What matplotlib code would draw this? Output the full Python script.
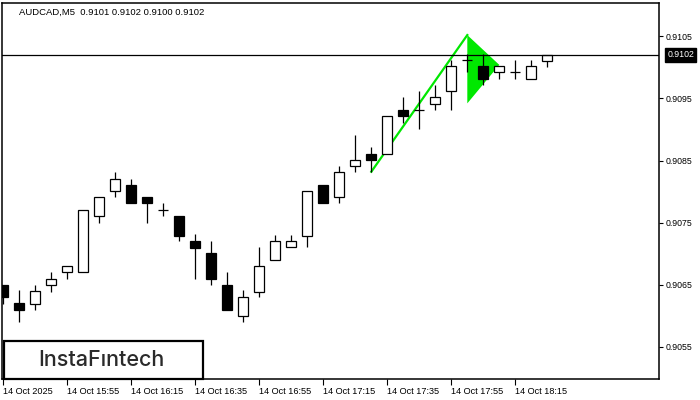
import numpy as np
import matplotlib.pyplot as plt
from matplotlib.patches import Polygon, Rectangle

plt.rcParams['font.family'] = ['Liberation Sans', 'DejaVu Sans']

# AUDCAD M5 candles, 14 Oct 2025 from 15:35
opens = [0.90650, 0.90620, 0.90619, 0.90650, 0.90671, 0.90671, 0.90761, 0.90801, 0.90811, 0.90792,
         0.90770, 0.90761, 0.90721, 0.90702, 0.90650, 0.90599, 0.90639, 0.90690, 0.90711, 0.90729,
         0.90811, 0.90791, 0.90841, 0.90861, 0.90860, 0.90932, 0.90932, 0.90941, 0.90962, 0.91012,
         0.91002, 0.90992, 0.90992, 0.90982, 0.91010]
highs = [0.90650, 0.90641, 0.90650, 0.90671, 0.90680, 0.90771, 0.90791, 0.90832, 0.90821, 0.90792,
         0.90782, 0.90761, 0.90731, 0.90721, 0.90671, 0.90641, 0.90711, 0.90730, 0.90730, 0.90801,
         0.90811, 0.90841, 0.90891, 0.90872, 0.90921, 0.90952, 0.90962, 0.90972, 0.91012, 0.91021,
         0.91021, 0.91002, 0.91012, 0.91012, 0.91020]
lows = [0.90619, 0.90590, 0.90609, 0.90639, 0.90659, 0.90671, 0.90750, 0.90791, 0.90781, 0.90750,
        0.90760, 0.90720, 0.90659, 0.90649, 0.90609, 0.90590, 0.90630, 0.90690, 0.90711, 0.90711,
        0.90781, 0.90781, 0.90831, 0.90832, 0.90860, 0.90911, 0.90901, 0.90931, 0.90931, 0.90992,
        0.90971, 0.90982, 0.90982, 0.90982, 0.91000]
closes = [0.90630, 0.90609, 0.90640, 0.90660, 0.90680, 0.90771, 0.90791, 0.90820, 0.90781, 0.90781,
          0.90770, 0.90729, 0.90710, 0.90659, 0.90609, 0.90630, 0.90680, 0.90720, 0.90720, 0.90801,
          0.90781, 0.90831, 0.90851, 0.90851, 0.90921, 0.90921, 0.90932, 0.90952, 0.91002, 0.91012,
          0.90982, 0.91002, 0.90992, 0.91002, 0.91020]

time_labels = ['14 Oct 2025', '14 Oct 15:55', '14 Oct 16:15', '14 Oct 16:35', '14 Oct 16:55',
               '14 Oct 17:15', '14 Oct 17:35', '14 Oct 17:55', '14 Oct 18:15']
price_ticks = [0.9055, 0.9065, 0.9075, 0.9085, 0.9095, 0.9105]
last_price = 0.9102

# bullish pennant: pole and flag
pole_x = [23, 29]
pole_y = [0.90832, 0.91052]
flag_x = [29, 29, 31]
flag_y = [0.91052, 0.90942, 0.91004]

fig = plt.figure(figsize=(7, 4), dpi=100)
ax = fig.add_axes([2/700, 21/400, 657/700, 376/400])

n = len(opens)
x = np.arange(n)
w = 0.62

# pattern drawn under the candles
ax.add_patch(Polygon(list(zip(flag_x, flag_y)), closed=True, facecolor='#00e800', edgecolor='none', zorder=1))
ax.plot(pole_x, pole_y, color='#00e800', lw=1.6, zorder=1)

for i in range(n):
    o, h, l, c = opens[i], highs[i], lows[i], closes[i]
    ax.vlines(x[i], l, h, color='black', lw=0.9, zorder=2)
    if abs(c - o) < 1e-6:
        ax.hlines(o, x[i] - w/2, x[i] + w/2, color='black', lw=0.9, zorder=3)
    else:
        fc = 'white' if c > o else 'black'
        ax.add_patch(Rectangle((x[i] - w/2, min(o, c)), w, abs(c - o),
                               facecolor=fc, edgecolor='black', lw=0.9, zorder=3))

ax.axhline(last_price, color='black', lw=0.9, zorder=4)

ax.set_xlim(-0.08, 40.98)
ax.set_ylim(0.904984, 0.911036)

ax.set_xticks(np.arange(0, 33, 4))
ax.set_xticklabels(time_labels, ha='left', fontsize=6.6)
ax.tick_params(axis='x', direction='out', length=4, width=0.8, pad=2)

ax.yaxis.tick_right()
ax.set_yticks(price_ticks)
ax.set_yticklabels([f'{p:.4f}' for p in price_ticks], fontsize=6.3)
ax.tick_params(axis='y', direction='out', length=3, width=0.8, pad=2)

for s in ax.spines.values():
    s.set_linewidth(1.1)

ax.annotate(f'{last_price:.4f}', xy=(1, last_price), xycoords=('axes fraction', 'data'),
            xytext=(6, 0), textcoords='offset points', ha='left', va='center',
            fontsize=6.3, color='white',
            bbox=dict(boxstyle='square,pad=0.25', facecolor='black', edgecolor='black'),
            annotation_clip=False)

ax.text(17/657, 1 - 9.5/376, 'AUDCAD,M5  0.9101 0.9102 0.9100 0.9102', transform=ax.transAxes,
        ha='left', va='center', fontsize=6.8, color='black')

# logo box
ax.add_patch(Rectangle((1.5/657, 0), 199/657, 38/376, transform=ax.transAxes,
                       facecolor='white', edgecolor='black', lw=1.6, zorder=6, clip_on=False))
ax.text(99/657, 19/376, 'InstaFıntech', transform=ax.transAxes, ha='center', va='center',
        fontsize=15.5, color='#2a2a2a', family=['Inter', 'DejaVu Sans'], fontweight='medium', zorder=7)

fig.savefig('out.png', dpi=100)
